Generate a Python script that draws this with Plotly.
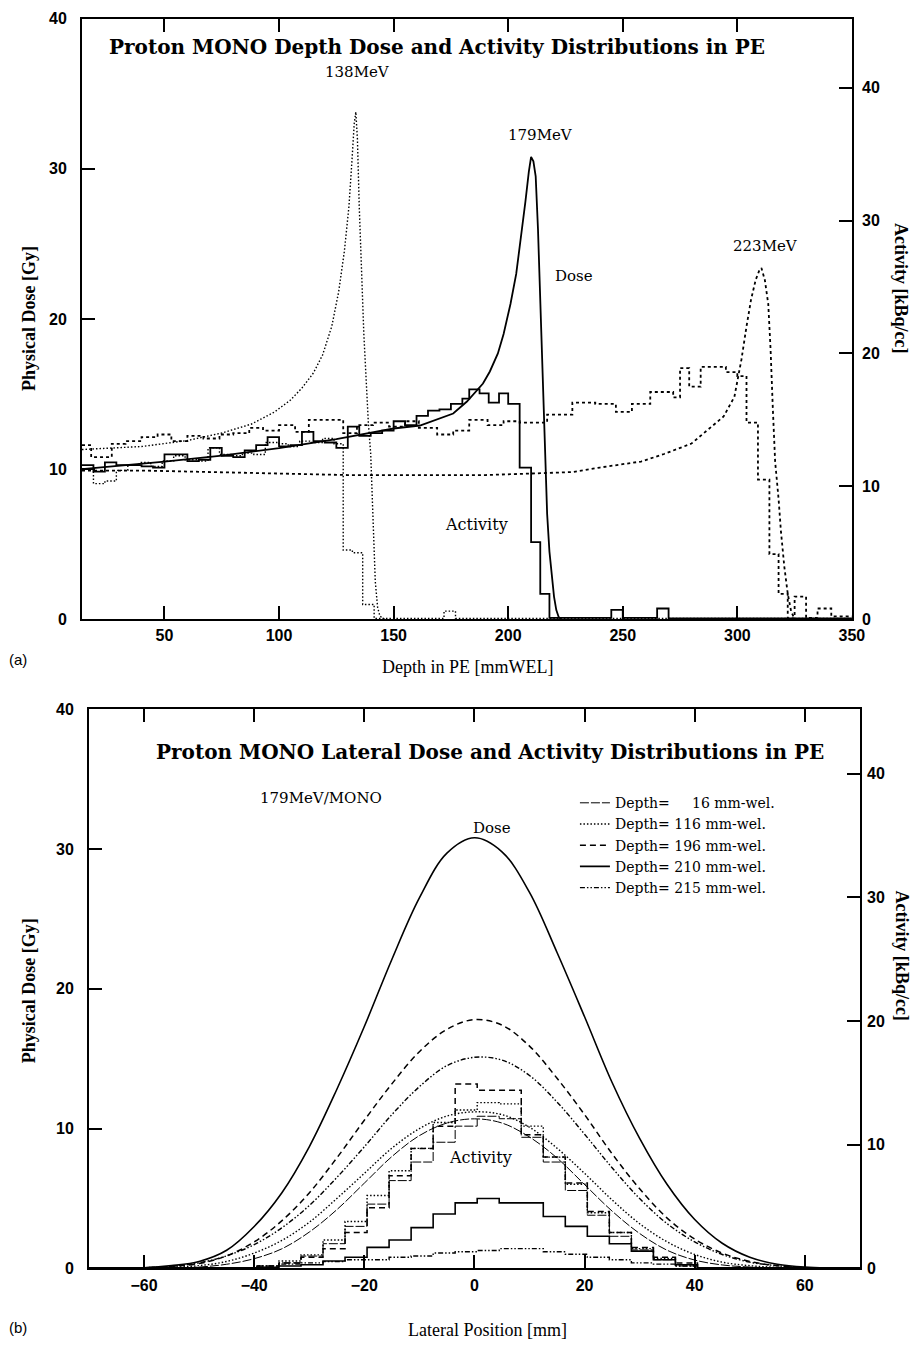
import plotly.graph_objects as go

W, H = 921, 1361


def px(x):
    # reference pixel x -> paper fraction
    return ((x + 1) / 0.986) / W


def py(y):
    # reference pixel y -> paper fraction
    return 1 - ((y - 8.2) / 0.987) / H


# ---------------- Panel (a): depth distributions ----------------
depth_138 = [14, 40, 60, 75, 88, 98, 105, 110, 115, 119, 123, 126, 128.5, 130.5, 131.8, 132.8,
             133.5, 134.2, 135, 136, 137, 138, 139, 140, 141, 142, 143, 144, 146]
dose_138 = [11.3, 11.5, 11.9, 12.4, 13.0, 13.8, 14.6, 15.4, 16.4, 17.6, 19.5, 21.8, 24.5, 27.5,
            30.5, 33.0, 33.8, 32.0, 27.5, 22.5, 19.0, 16.0, 13.0, 11.0, 6.0, 2.5, 0.8, 0.2, 0.0]

depth_179 = [14, 30, 50, 75, 100, 125, 140, 150, 161.5, 170, 176, 182, 189, 192, 195.5, 198, 201,
             203.5, 205.5, 207.5, 209, 210, 211, 212, 213, 214, 215, 216, 217, 218, 219, 220, 221,
             222, 223]
dose_179 = [10.0, 10.2, 10.5, 10.9, 11.4, 12.0, 12.4, 12.7, 12.9, 13.4, 13.7, 14.5, 15.7, 16.5,
            17.7, 19.0, 21.0, 23.0, 25.3, 27.8, 29.8, 30.8, 30.5, 29.5, 26.0, 21.0, 15.5, 10.5,
            7.0, 4.5, 2.8, 1.5, 0.6, 0.15, 0.0]

depth_223 = [14, 40, 70, 100, 130, 160, 190, 210, 228, 240, 258, 268, 280, 287, 294, 298.7, 301.8,
             304, 306, 308, 309.5, 310.5, 312, 313.5, 314.5, 315.5, 316.5, 318, 319, 320.5, 322,
             323.5, 325]
dose_223 = [9.9, 9.9, 9.8, 9.7, 9.6, 9.6, 9.6, 9.7, 9.8, 10.1, 10.5, 11.0, 11.7, 12.6, 13.5, 14.8,
            17.3, 19.5, 21.3, 22.6, 23.2, 23.4, 22.6, 21.0, 18.0, 14.0, 10.5, 8.0, 5.9, 3.5, 1.7,
            0.5, 0.0]

# activity histograms (bin edges in mm, values in kBq/cc)
act138_edges = [14, 19, 24, 29, 34, 39, 44, 49, 54, 59, 64, 69, 74, 79, 84, 89, 94, 99, 104, 109,
                114, 119, 124, 128, 132, 136.5, 141.5, 172, 177, 350]
act138_vals = [11.3, 10.2, 10.4, 11.2, 11.6, 11.8, 11.5, 11.9, 12.3, 12.0, 11.9, 12.9, 12.4, 12.3,
               12.5, 12.4, 13.3, 13.2, 13.0, 13.4, 13.3, 13.6, 13.2, 5.2, 5.0, 1.1, 0.05, 0.6, 0.05]

act179_edges = [14, 19, 24, 29, 34, 40, 45, 50, 55, 60, 65, 70, 75, 80, 85, 90, 95, 100, 105, 110,
                115, 120, 125, 130, 135, 140, 145, 150, 155, 160, 165, 170, 175, 180, 183, 187.5,
                191.5, 196, 200, 205, 210, 214, 218, 245, 250, 265, 270, 350]
act179_vals = [11.6, 11.1, 11.8, 11.6, 11.6, 11.5, 11.4, 12.4, 12.4, 11.9, 12.0, 12.9, 12.3, 12.2,
               12.7, 13.1, 13.7, 13.0, 13.1, 14.1, 13.4, 13.3, 12.9, 14.5, 13.8, 14.0, 14.2, 14.9,
               14.6, 15.3, 15.7, 15.8, 16.2, 16.6, 17.3, 17.0, 16.3, 17.0, 16.2, 11.4, 5.8, 1.9,
               0.1, 0.7, 0.1, 0.8, 0.05]

act223_edges = [14, 18, 27, 33, 40, 47, 53, 60, 67, 74, 80, 87, 93, 100, 107, 113, 128, 134, 141,
                148, 155, 161, 169, 176, 183, 191, 198, 205, 217, 228, 238, 247, 254, 262, 272,
                275, 279, 284, 295, 300, 304, 309, 314, 318, 322, 325, 330, 335, 341, 350]
act223_vals = [13.1, 12.2, 13.2, 13.4, 13.7, 13.9, 13.4, 13.8, 13.6, 13.9, 14.0, 14.4, 14.2, 14.6,
               14.1, 15.0, 14.0, 14.6, 14.8, 14.5, 14.9, 14.4, 13.9, 14.2, 15.0, 14.6, 14.9, 14.8,
               15.4, 16.3, 16.2, 15.6, 16.2, 17.1, 16.7, 18.9, 17.5, 19.0, 18.6, 18.3, 14.8, 10.5,
               4.9, 1.9, 0.05, 1.7, 0.1, 0.8, 0.2]

# ---------------- Panel (b): lateral distributions ----------------
lat_x = [-70, -60, -55, -50, -45, -40, -35, -30, -25, -20, -15, -10, -5, 0, 5, 10, 15, 20, 25, 30,
         35, 40, 45, 50, 55, 60, 70]
dose_lat_16 = [0, 0.01, 0.03, 0.1, 0.3, 0.7, 1.4, 2.6, 4.2, 6.1, 8.0, 9.5, 10.4, 10.7, 10.4, 9.4,
               7.9, 6.0, 4.1, 2.5, 1.3, 0.6, 0.25, 0.1, 0.03, 0.01, 0]
dose_lat_116 = [0, 0.02, 0.08, 0.2, 0.5, 1.1, 2.0, 3.3, 5.0, 6.8, 8.6, 10.0, 10.9, 11.2, 11.0,
                10.1, 8.6, 6.8, 4.9, 3.2, 1.9, 1.0, 0.45, 0.2, 0.08, 0.02, 0]
dose_lat_196 = [0, 0.05, 0.15, 0.35, 0.9, 1.9, 3.4, 5.4, 7.9, 10.6, 13.2, 15.5, 17.1, 17.8, 17.4,
                15.9, 13.6, 11.0, 8.2, 5.7, 3.6, 2.1, 1.1, 0.5, 0.2, 0.05, 0]
dose_lat_210 = [0, 0.05, 0.2, 0.5, 1.3, 3.0, 5.4, 8.7, 12.8, 17.3, 22.1, 26.5, 29.7, 30.8, 29.8,
                26.9, 22.6, 18.0, 13.3, 9.3, 6.0, 3.5, 1.8, 0.8, 0.3, 0.1, 0]
dose_lat_215 = [0, 0.05, 0.15, 0.4, 0.9, 1.7, 2.9, 4.5, 6.5, 8.7, 11.0, 13.0, 14.5, 15.1, 14.9,
                13.8, 11.9, 9.6, 7.2, 5.0, 3.2, 1.9, 1.0, 0.45, 0.2, 0.05, 0]

lat_edges = [-70, -39.5, -35.5, -31.5, -27.5, -23.5, -19.5, -15.5, -11.5, -7.5, -3.5, 0.5, 4.5,
             8.5, 12.5, 16.5, 20.5, 24.5, 28.5, 32.5, 36.5, 40.5, 70]
act_lat_16 = [0.05, 0.1, 0.45, 1.0, 2.0, 3.4, 5.2, 7.1, 8.6, 10.2, 11.5, 12.3, 12.1, 10.6, 8.6, 6.3,
              4.3, 2.6, 1.5, 0.7, 0.2, 0.05]
act_lat_116 = [0.05, 0.2, 0.6, 1.1, 2.3, 3.8, 5.9, 7.9, 9.7, 11.8, 12.8, 13.4, 13.3, 11.5, 9.0, 6.8,
               4.5, 2.9, 1.6, 0.8, 0.3, 0.05]
act_lat_196 = [0.05, 0.2, 0.45, 0.9, 1.6, 2.9, 4.9, 7.5, 9.7, 11.5, 14.9, 14.4, 14.4, 10.8, 9.0,
               6.9, 4.6, 2.9, 1.7, 0.9, 0.45, 0.05]
act_lat_210 = [0.05, 0.1, 0.2, 0.3, 0.6, 0.9, 1.7, 2.3, 3.3, 4.4, 5.3, 5.65, 5.3, 5.3, 4.2, 3.4,
               2.6, 2.0, 1.4, 0.7, 0.3, 0.05]
act_lat_215 = [0.05, 0.2, 0.35, 0.45, 0.55, 0.7, 0.7, 0.9, 1.0, 1.25, 1.35, 1.45, 1.6, 1.6, 1.35,
               1.15, 0.9, 0.7, 0.45, 0.35, 0.2, 0.05]

legend_names = ["Depth= \u2007\u200716 mm-wel.", "Depth= 116 mm-wel.", "Depth= 196 mm-wel.",
                "Depth= 210 mm-wel.", "Depth= 215 mm-wel."]

# ---------------- styles ----------------
st_138 = dict(color="black", width=1.4, dash="1.5px,2px")
st_179 = dict(color="black", width=1.8, dash="solid")
st_223 = dict(color="black", width=1.8, dash="3px,3px")

st_lat = [
    dict(color="black", width=1.0, dash="9px,2px"),
    dict(color="black", width=1.4, dash="1.5px,2px"),
    dict(color="black", width=1.5, dash="6px,4px"),
    dict(color="black", width=1.6, dash="solid"),
    dict(color="black", width=1.4, dash="5px,2px,1.5px,2px,1.5px,2px"),
]

fig = go.Figure()

for xs, ys, st in [(depth_138, dose_138, st_138), (depth_179, dose_179, st_179),
                   (depth_223, dose_223, st_223)]:
    fig.add_trace(go.Scatter(x=xs, y=ys, mode="lines", line=st, xaxis="x", yaxis="y",
                             showlegend=False, hoverinfo="skip"))
for ed, vals, st in [(act138_edges, act138_vals, st_138), (act179_edges, act179_vals, st_179),
                     (act223_edges, act223_vals, st_223)]:
    fig.add_trace(go.Scatter(x=ed, y=vals + [vals[-1]], mode="lines", line=dict(st, shape="hv"),
                             xaxis="x", yaxis="y2", showlegend=False, hoverinfo="skip"))

for ys, st, nm in zip([dose_lat_16, dose_lat_116, dose_lat_196, dose_lat_210, dose_lat_215],
                      st_lat, legend_names):
    fig.add_trace(go.Scatter(x=lat_x, y=ys, mode="lines", line=dict(st, shape="spline"),
                             xaxis="x2", yaxis="y3", name=nm, showlegend=True))
for vals, st in zip([act_lat_16, act_lat_116, act_lat_196, act_lat_210, act_lat_215], st_lat):
    fig.add_trace(go.Scatter(x=lat_edges, y=vals + [vals[-1]], mode="lines",
                             line=dict(st, shape="hv"), xaxis="x2", yaxis="y4",
                             showlegend=False, hoverinfo="skip"))

tickfont = dict(family="Liberation Sans", size=16, color="black", weight="bold")
common = dict(showgrid=False, zeroline=False, showline=True, linecolor="black", linewidth=2,
              ticks="inside", ticklen=13, tickwidth=1.5, tickcolor="black", tickfont=tickfont)

fig.update_layout(
    width=W, height=H, margin=dict(l=0, r=0, t=0, b=0),
    paper_bgcolor="white", plot_bgcolor="white",
    xaxis=dict(domain=[px(81), px(851)], range=[14, 350], anchor="y",
               tickvals=[50, 100, 150, 200, 250, 300, 350], mirror="ticks",
               ticklabelstandoff=1, **common),
    yaxis=dict(domain=[py(619), py(19)], range=[0, 40], anchor="x",
               tickvals=[0, 10, 20, 30, 40], ticklabelstandoff=10, **common),
    yaxis2=dict(overlaying="y", side="right", range=[0, 45.2], anchor="x",
                tickvals=[0, 10, 20, 30, 40], ticklabelstandoff=5, **common),
    xaxis2=dict(domain=[px(88), px(859)], range=[-70, 70], anchor="y3",
                tickvals=[-60, -40, -20, 0, 20, 40, 60], mirror="ticks",
                ticklabelstandoff=1, **common),
    yaxis3=dict(domain=[py(1268), py(709)], range=[0, 40], anchor="x2",
                tickvals=[0, 10, 20, 30, 40], ticklabelstandoff=10, **common),
    yaxis4=dict(overlaying="y3", side="right", range=[0, 45.2], anchor="x2",
                tickvals=[0, 10, 20, 30, 40], ticklabelstandoff=2, **common),
    legend=dict(x=px(574), y=py(787), xanchor="left", yanchor="top",
                font=dict(family="DejaVu Serif", size=14, color="black"),
                bgcolor="rgba(0,0,0,0)", tracegroupgap=0, itemwidth=30),
    showlegend=True,
)

serif = "DejaVu Serif"
times = "Liberation Serif"


def ann(text, x, y, size, family=serif, bold=False, angle=0, xanchor="center"):
    fig.add_annotation(text=text, x=px(x), y=py(y), xref="paper", yref="paper",
                       showarrow=False, xanchor=xanchor, yanchor="middle", textangle=angle,
                       font=dict(family=family, size=size, color="black",
                                 weight="bold" if bold else "normal"))


ann("Proton MONO Depth Dose and Activity Distributions in PE", 436, 47, 20, bold=True)
ann("138MeV", 357, 72, 15)
ann("179MeV", 540, 135, 15)
ann("Dose", 573, 276, 15)
ann("223MeV", 765, 246, 15)
ann("Activity", 476, 524, 16)
ann("Depth in PE [mmWEL]", 467, 667, 18, family=times)
ann("Physical Dose [Gy]", 28, 318, 18, family=times, bold=True, angle=-90)
ann("Activity [kBq/cc]", 900, 288, 18, family=times, bold=True, angle=90)
ann("(a)", 17, 659, 15, family="Liberation Sans")

ann("Proton MONO Lateral Dose and Activity Distributions in PE", 489, 752, 20, bold=True)
ann("179MeV/MONO", 320, 798, 15)
ann("Dose", 491, 828, 15)
ann("Activity", 480, 1157, 16)
ann("Lateral Position [mm]", 487, 1330, 18, family=times)
ann("Physical Dose [Gy]", 28, 990, 18, family=times, bold=True, angle=-90)
ann("Activity [kBq/cc]", 901, 955, 18, family=times, bold=True, angle=90)
ann("(b)", 17, 1327, 15, family="Liberation Sans")

fig.write_html("out.html")
